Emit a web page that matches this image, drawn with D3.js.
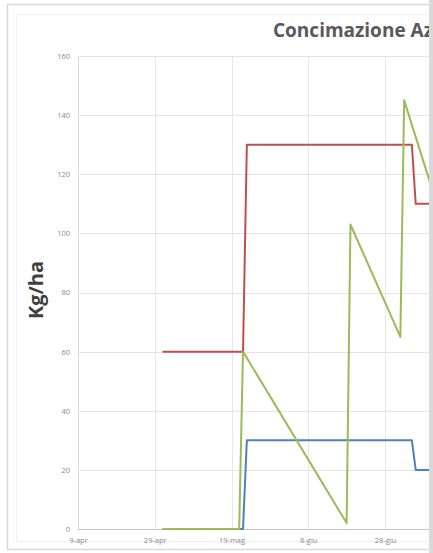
<!DOCTYPE html>
<html>
<head>
<meta charset="utf-8">
<script src="https://cdn.jsdelivr.net/npm/d3@7"></script>
<style>
  html, body { margin: 0; padding: 0; background: #fff; }
  svg { display: block; }
</style>
</head>
<body>
<svg id="chart" width="433" height="553"></svg>
<script>
// Nitrogen fertilisation, kg/ha over the season
const redDates   = ["2013-05-01", "2013-05-22", "2013-05-23", "2013-07-05", "2013-07-06", "2013-07-25"];
const redValues  = [60, 60, 130, 130, 110, 110];
const blueDates  = ["2013-05-01", "2013-05-22", "2013-05-23", "2013-07-05", "2013-07-06", "2013-07-25"];
const blueValues = [0, 0, 30, 30, 20, 20];
const greenDates  = ["2013-05-01", "2013-05-21", "2013-05-22", "2013-06-18", "2013-06-19", "2013-07-02", "2013-07-03", "2013-07-11"];
const greenValues = [0, 0, 60, 2, 103, 65, 145, 112];

const xTickDates  = ["2013-04-09", "2013-04-29", "2013-05-19", "2013-06-08", "2013-06-28"];
const xTickLabels = ["9-apr", "29-apr", "19-mag", "8-giu", "28-giu"];
const yTicks = [0, 20, 40, 60, 80, 100, 120, 140, 160];

const parse = d3.utcParse("%Y-%m-%d");
const svg = d3.select("#chart");
const W = 433, H = 553;

// outer chart frame
svg.append("rect").attr("x", 0).attr("y", 0).attr("width", W).attr("height", H).attr("fill", "#fff");
svg.append("rect").attr("x", 7.5).attr("y", 4.5).attr("width", 440).attr("height", 545)
  .attr("fill", "none").attr("stroke", "#d9d9d9").attr("stroke-width", 1.5);
svg.append("rect").attr("x", 16.5).attr("y", 14.5).attr("width", 440).attr("height", 527)
  .attr("fill", "none").attr("stroke", "#f0f0f0").attr("stroke-width", 1);

const plotLeft = 78, plotBottom = 529, plotTop = 56;
const pxPerDay = 3.8375;
const x0 = parse("2013-04-09"), x1 = parse("2013-07-29");
const x = d3.scaleUtc().domain([x0, x1])
  .range([plotLeft, plotLeft + d3.utcDay.count(x0, x1) * pxPerDay]);
const y = d3.scaleLinear().domain([0, 160]).range([plotBottom, plotTop]);

// horizontal gridlines
svg.append("g").selectAll("line").data(yTicks.slice(1)).join("line")
  .attr("x1", plotLeft).attr("x2", 520)
  .attr("y1", d => Math.round(y(d)) + 0.5).attr("y2", d => Math.round(y(d)) + 0.5)
  .attr("stroke", "#e4e4e4").attr("stroke-width", 1);

// vertical gridlines
svg.append("g").selectAll("line").data(xTickDates.slice(1)).join("line")
  .attr("x1", d => Math.round(x(parse(d))) + 0.5).attr("x2", d => Math.round(x(parse(d))) + 0.5)
  .attr("y1", plotTop).attr("y2", plotBottom)
  .attr("stroke", "#e8e8e8").attr("stroke-width", 1);

// y axis
const yAxis = svg.append("g").attr("transform", `translate(${plotLeft},0)`)
  .call(d3.axisLeft(y).tickValues(yTicks).tickSize(0).tickPadding(8));
yAxis.select(".domain").attr("stroke", "#d9d9d9").attr("d", `M0.5,${plotTop}V${plotBottom}`);
yAxis.selectAll("text").attr("fill", "#8a8a8a").style("font-family", "'Open Sans', sans-serif").style("font-size", "7.5px");

// x axis
const xAxis = svg.append("g").attr("transform", `translate(0,${plotBottom})`)
  .call(d3.axisBottom(x).tickValues(xTickDates.map(parse)).tickFormat((d, i) => xTickLabels[i])
    .tickSize(0).tickPadding(9));
xAxis.select(".domain").attr("stroke", "#c8c8c8").attr("d", `M${plotLeft},0.5H520`);
xAxis.selectAll("text").attr("fill", "#8a8a8a").style("font-family", "'Open Sans', sans-serif").style("font-size", "7.5px");

// series
const line = d3.line().x(d => x(d[0])).y(d => y(d[1]));
const series = [
  { dates: redDates, values: redValues, color: "#c0504d" },
  { dates: blueDates, values: blueValues, color: "#4f81bd" },
  { dates: greenDates, values: greenValues, color: "#9bbb59" }
];
series.forEach(s => {
  const pts = s.dates.map((d, i) => [parse(d), s.values[i]]);
  svg.append("path").datum(pts).attr("d", line)
    .attr("fill", "none").attr("stroke", s.color).attr("stroke-width", 2)
    .attr("stroke-linejoin", "round");
});

// title
svg.append("text").attr("x", 273).attr("y", 37)
  .attr("fill", "#595959").style("font-family", "'Open Sans', sans-serif")
  .style("font-size", "19px").style("font-weight", "bold")
  .text("Concimazione Azotata");

// y axis title
svg.append("text").attr("transform", "translate(43,290) rotate(-90)")
  .attr("text-anchor", "middle").attr("fill", "#404040")
  .style("font-family", "'Open Sans', sans-serif").style("font-size", "20px").style("font-weight", "bold")
  .text("Kg/ha");

// right edge strip
svg.append("rect").attr("x", 429).attr("y", 0).attr("width", 4).attr("height", H).attr("fill", "#d9d9d9");
</script>
</body>
</html>
